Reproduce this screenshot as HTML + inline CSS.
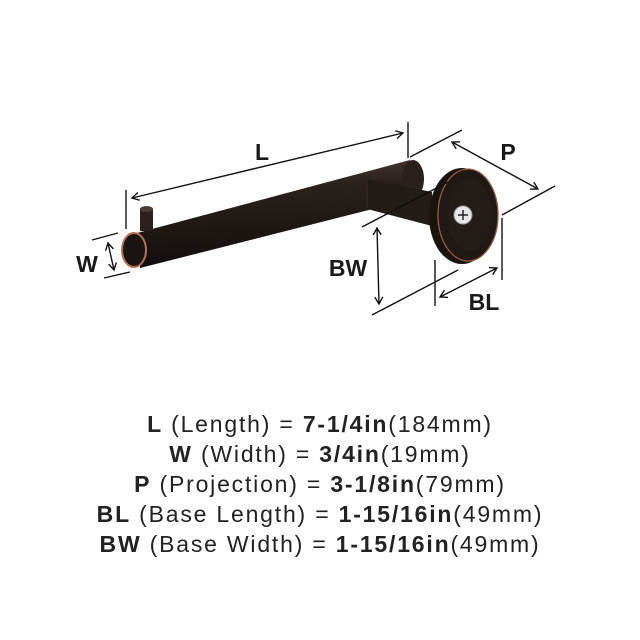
<!DOCTYPE html>
<html><head><style>
html,body{margin:0;padding:0;background:#fff;}
body{width:640px;height:640px;overflow:hidden;position:relative;font-family:"Liberation Sans",sans-serif;}
.t{position:absolute;left:0;width:640px;text-align:center;font-size:23px;letter-spacing:1.8px;color:#222;line-height:30px;}
b{font-weight:bold;}
</style></head><body>
<svg width="640" height="640" style="position:absolute;left:0;top:0">
<defs>
<linearGradient id="rod" x1="0" y1="0" x2="0.1" y2="1">
<stop offset="0" stop-color="#4a3a32"/><stop offset="0.3" stop-color="#2a211d"/><stop offset="1" stop-color="#120e0c"/>
</linearGradient>
<marker id="a" markerWidth="10" markerHeight="10" refX="8" refY="5" orient="auto-start-reverse" markerUnits="userSpaceOnUse">
<path d="M1,1 L8,5 L1,9" fill="none" stroke="#111" stroke-width="1.4"/></marker>
</defs>
<!-- rod -->
<polygon points="137,233 410,160 420,197 140,268" fill="url(#rod)"/>
<ellipse cx="413" cy="179" rx="11" ry="19" fill="#2a201c"/>
<!-- arm -->
<polygon points="367,179 432,192 432,226 367,209" fill="#231b17"/>
<line x1="367" y1="180" x2="367" y2="208" stroke="#3a2e28"/>
<!-- pin -->
<rect x="140" y="209" width="13" height="22" fill="#2b221e"/>
<ellipse cx="146.5" cy="209" rx="6.5" ry="3" fill="#4a3c34"/>
<!-- end cap -->
<ellipse cx="134" cy="250" rx="12" ry="17" fill="#1a1412" stroke="#b87050" stroke-width="2"/>
<!-- base -->
<ellipse cx="462" cy="216" rx="33" ry="48" fill="#1a1411"/>
<ellipse cx="468" cy="215" rx="30" ry="46" fill="#1f1815" stroke="#9a5a3e" stroke-width="1.3"/>
<ellipse cx="470" cy="215" rx="22" ry="36" fill="#241c19"/>
<circle cx="463" cy="215" r="9" fill="#e8e8e8" stroke="#999"/>
<path d="M463,210v10M458,215h10" stroke="#222" stroke-width="1.5"/>
<!-- dimension lines -->
<g stroke="#111" stroke-width="1.4" fill="none">
<line x1="126" y1="190" x2="126" y2="229"/>
<line x1="408" y1="122" x2="408" y2="158"/>
<line x1="132" y1="198" x2="403" y2="133" marker-start="url(#a)" marker-end="url(#a)"/>
<line x1="410" y1="157" x2="462" y2="130"/>
<line x1="452" y1="142" x2="538" y2="189" marker-start="url(#a)" marker-end="url(#a)"/>
<line x1="502" y1="215" x2="555" y2="186"/>
<line x1="92" y1="240" x2="118" y2="233"/>
<line x1="104" y1="278" x2="130" y2="272"/>
<line x1="108" y1="243" x2="114" y2="270" marker-start="url(#a)" marker-end="url(#a)"/>
<line x1="362" y1="227" x2="448" y2="182"/>
<line x1="377" y1="228" x2="379" y2="304" marker-start="url(#a)" marker-end="url(#a)"/>
<line x1="372" y1="315" x2="458" y2="270"/>
<line x1="435" y1="260" x2="435" y2="306"/>
<line x1="502" y1="218" x2="502" y2="280"/>
<line x1="440" y1="297" x2="497" y2="268" marker-start="url(#a)" marker-end="url(#a)"/>
</g>
<g font-family="Liberation Sans, sans-serif" font-size="23" font-weight="bold" fill="#1a1a1a" text-anchor="middle">
<text x="262" y="160">L</text>
<text x="508" y="160">P</text>
<text x="87" y="272">W</text>
<text x="348" y="276">BW</text>
<text x="484" y="310">BL</text>
</g>
</svg>
<div class="t" style="top:409px"><b>L</b> (Length) = <b>7-1/4in</b>(184mm)</div>
<div class="t" style="top:439px"><b>W</b> (Width) = <b>3/4in</b>(19mm)</div>
<div class="t" style="top:469px"><b>P</b> (Projection) = <b>3-1/8in</b>(79mm)</div>
<div class="t" style="top:499px"><b>BL</b> (Base Length) = <b>1-15/16in</b>(49mm)</div>
<div class="t" style="top:529px"><b>BW</b> (Base Width) = <b>1-15/16in</b>(49mm)</div>
</body></html>
